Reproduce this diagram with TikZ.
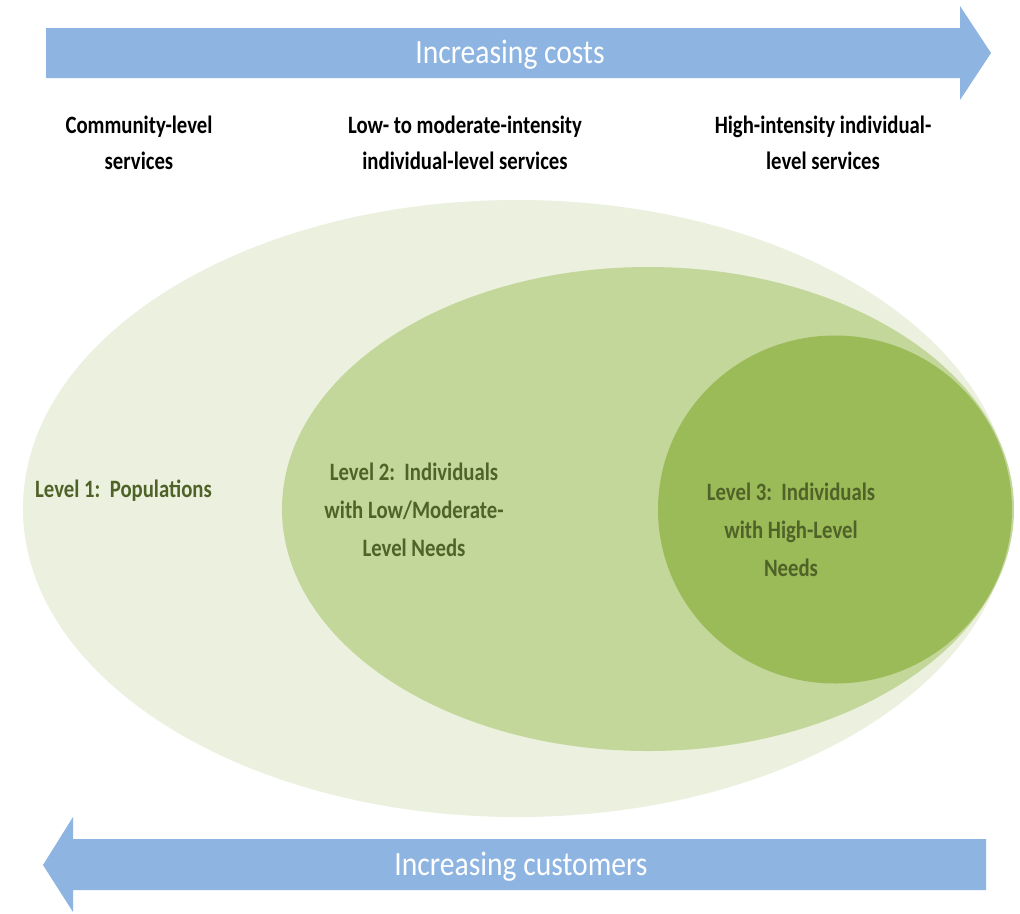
\documentclass[tikz,border=0pt]{standalone}
\usepackage{fontspec}
\usepackage{graphicx}
\setmainfont{Carlito}
\newcommand{\sqz}[1]{\scalebox{0.83}[1]{#1}}
\newcommand{\sqa}[1]{\scalebox{0.87}[1]{#1}}
\definecolor{arrowblue}{HTML}{8EB4E1}
\definecolor{lvlone}{HTML}{EBF1DE}
\definecolor{lvltwo}{HTML}{C4D79B}
\definecolor{lvlthree}{HTML}{9BBB59}
\definecolor{lvltext}{HTML}{4F6228}
\tikzset{
  bigarrow/.style={fill=arrowblue, draw=none},
  arrowtext/.style={text=white, inner sep=0pt, font=\fontsize{34}{38}\selectfont},
  headtext/.style={text=black, inner sep=0pt, align=center, font=\fontsize{25}{36}\selectfont\bfseries},
  leveltext/.style={text=lvltext, inner sep=0pt, align=center, font=\fontsize{25}{38}\selectfont\bfseries}
}
\begin{document}
\begin{tikzpicture}[x=1pt, y=-1pt]
\useasboundingbox[fill=white] (0,0) rectangle (1020,913);

% top arrow
\fill[bigarrow] (46,28) -- (960,28) -- (960,6) -- (991,53) -- (960,100) -- (960,78) -- (46,78) -- cycle;
\node[arrowtext] (costs) at (510,55) {\sqa{Increasing costs}};

% headers
\node[headtext] (community) at (139,143) {\sqz{Community-level}\\\sqz{services}};
\node[headtext] (lowmod) at (465,143) {\sqz{Low- to moderate-intensity}\\\sqz{individual-level services}};
\node[headtext] (highint) at (823,143) {\sqz{High-intensity individual-}\\\sqz{level services}};

% ellipses
\fill[lvlone] (517,508.5) ellipse [x radius=494pt, y radius=308.5pt];
\fill[lvltwo] (648,509) ellipse [x radius=366pt, y radius=242pt];
\fill[lvlthree] (835,509.5) ellipse [x radius=177pt, y radius=174pt];

% level texts
\node[leveltext, anchor=west] (lvl1) at (35,491) {\sqz{Level 1:\ \ Populations}};
\node[leveltext] (lvl2) at (414,510) {\sqz{Level 2:\ \ Individuals}\\\sqz{with Low/Moderate-}\\\sqz{Level Needs}};
\node[leveltext] (lvl3) at (791,530) {\sqz{Level 3:\ \ Individuals}\\\sqz{with High-Level}\\\sqz{Needs}};

% bottom arrow
\fill[bigarrow] (986,839) -- (73,839) -- (73,817) -- (43,865) -- (73,912) -- (73,890) -- (986,890) -- cycle;
\node[arrowtext] (customers) at (521,867) {\sqa{Increasing customers}};
\end{tikzpicture}
\end{document}
